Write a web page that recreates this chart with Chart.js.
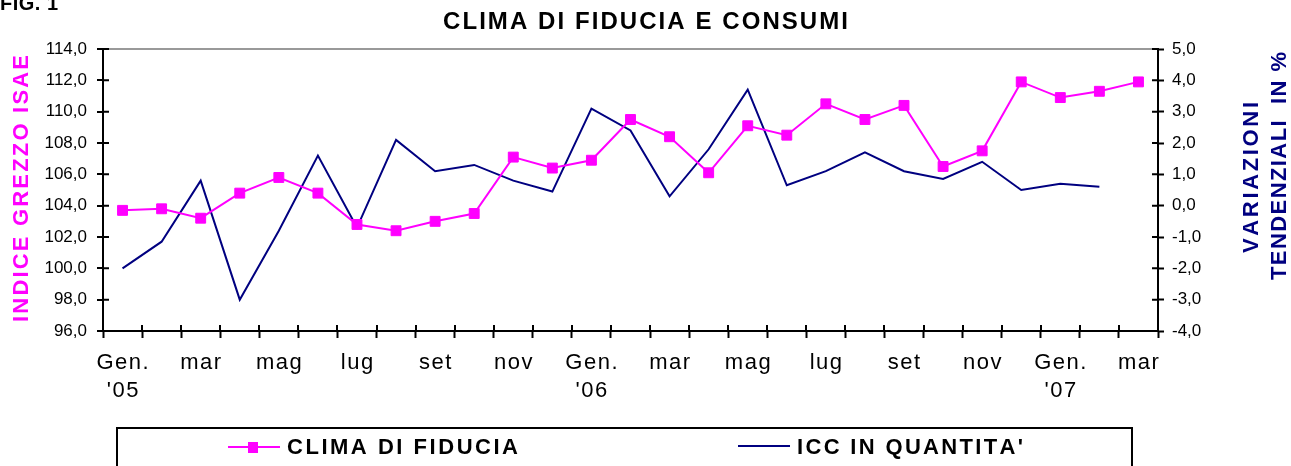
<!DOCTYPE html>
<html>
<head>
<meta charset="utf-8">
<script src="https://cdn.jsdelivr.net/npm/chart.js@4.4.0/dist/chart.umd.min.js"></script>
<style>
  html, body { margin: 0; padding: 0; background: #fff; overflow: hidden; }
  canvas { display: block; }
</style>
</head>
<body>
<canvas id="grafica" width="1291" height="466"></canvas>
<script>
// dati (gen 2005 - mar 2007)
const mesi = [
  ["Gen.", "'05"], "feb", "mar", "apr", "mag", "giu", "lug", "ago", "set", "ott", "nov", "dic",
  ["Gen.", "'06"], "feb", "mar", "apr", "mag", "giu", "lug", "ago", "set", "ott", "nov", "dic",
  ["Gen.", "'07"], "feb", "mar"
];
const climaFiducia = [103.7, 103.8, 103.2, 104.8, 105.8, 104.8, 102.8, 102.4, 103.0, 103.5, 107.1, 106.4,
                      106.9, 109.5, 108.4, 106.1, 109.1, 108.5, 110.5, 109.5, 110.4, 106.5, 107.5, 111.9,
                      110.9, 111.3, 111.9];
const iccQuantita = [-2.0, -1.15, 0.8, -3.0, -0.8, 1.6, -0.7, 2.1, 1.1, 1.3, 0.8, 0.45,
                     3.1, 2.4, 0.3, 1.8, 3.7, 0.65, 1.1, 1.7, 1.1, 0.85, 1.4, 0.5,
                     0.7, 0.6, null];
const titolo = "CLIMA DI FIDUCIA E CONSUMI";
const titoloAsseSx = "INDICE GREZZO ISAE";
const titoloAsseDx = ["VARIAZIONI", "TENDENZIALI  IN %"];

const FONT = "'Liberation Sans', Arial, sans-serif";
const FONT_STRETTO = "'Liberation Sans Narrow', 'Arial Narrow', 'Liberation Sans', sans-serif";
const virgola = v => v.toFixed(1).replace('.', ',');

// scrive un testo lettera per lettera con spaziatura extra
function largo(ctx, s, gap) {
  const c = [...s];
  return c.reduce((t, ch) => t + ctx.measureText(ch).width, 0) + gap * (c.length - 1);
}
function scrivi(ctx, s, x, y, gap, align) {
  const w = largo(ctx, s, gap);
  let cx = align === 'center' ? x - w / 2 : x;
  ctx.textAlign = 'left';
  for (const ch of s) { ctx.fillText(ch, cx, y); cx += ctx.measureText(ch).width + gap; }
}
function scriviLargo(ctx, s, x, y, w, align) {
  const n = [...s].length;
  const gap = n > 1 ? (w - largo(ctx, s, 0)) / (n - 1) : 0;
  scrivi(ctx, s, x, y, gap, align);
}

const decorazioni = {
  id: 'decorazioni',
  afterDraw(chart) {
    const { ctx, chartArea: a, scales } = chart;
    ctx.save();
    // tacche interne
    ctx.strokeStyle = '#000';
    ctx.lineWidth = 2;
    ctx.beginPath();
    scales.y.ticks.forEach((t, i) => { const p = scales.y.getPixelForTick(i); ctx.moveTo(a.left, p); ctx.lineTo(a.left + 6, p); });
    scales.y1.ticks.forEach((t, i) => { const p = scales.y1.getPixelForTick(i); ctx.moveTo(a.right - 6, p); ctx.lineTo(a.right, p); });
    for (let i = 0; i <= mesi.length; i++) {
      const p = Math.round(scales.x.getPixelForValue(i - 0.5));
      ctx.moveTo(p, a.bottom); ctx.lineTo(p, a.bottom - 6);
    }
    ctx.stroke();

    // etichette asse x (un mese si, uno no)
    ctx.fillStyle = '#000';
    ctx.font = '22px ' + FONT;
    ctx.textBaseline = 'alphabetic';
    mesi.forEach((m, i) => {
      if (i % 2) return;
      const x = scales.x.getPixelForValue(i);
      const righe = Array.isArray(m) ? m : [m];
      righe.forEach((r, k) => scrivi(ctx, r, x, 369 + k * 28, 1.5, 'center'));
    });

    // titoli
    ctx.font = 'bold 20px ' + FONT;
    scriviLargo(ctx, 'FIG. 1', 0, 10, 58, 'left');
    ctx.font = 'bold 24px ' + FONT;
    scriviLargo(ctx, titolo, 443, 29, 405, 'left');

    // titolo asse sinistro
    ctx.font = 'bold 22px ' + FONT;
    ctx.save();
    ctx.translate(28, 188.5);
    ctx.rotate(-Math.PI / 2);
    ctx.fillStyle = '#FF00FF';
    scriviLargo(ctx, titoloAsseSx, 0, 0, 267, 'center');
    ctx.restore();

    // titolo asse destro su due righe
    const posDx = [[1258, 177.5, 151], [1286, 166, 228]];
    titoloAsseDx.forEach((r, k) => {
      ctx.save();
      ctx.translate(posDx[k][0], posDx[k][1]);
      ctx.rotate(-Math.PI / 2);
      ctx.fillStyle = '#000080';
      scriviLargo(ctx, r, 0, 0, posDx[k][2], 'center');
      ctx.restore();
    });

    // legenda in riquadro
    ctx.strokeStyle = '#000';
    ctx.lineWidth = 2;
    ctx.strokeRect(117, 428, 1015, 60);
    const voci = [
      { x: 228, y: 447, tx: 287, tw: 231 },
      { x: 738, y: 446, tx: 797, tw: 226 }
    ];
    chart.data.datasets.forEach((ds, k) => {
      const v = voci[k];
      ctx.strokeStyle = ds.borderColor;
      ctx.lineWidth = 2;
      ctx.beginPath(); ctx.moveTo(v.x, v.y); ctx.lineTo(v.x + 52, v.y); ctx.stroke();
      if (ds.pointRadius > 0) {
        ctx.fillStyle = ds.pointBackgroundColor;
        ctx.fillRect(v.x + 20, v.y - 5, 10, 11);
      }
      ctx.fillStyle = '#000';
      ctx.font = 'bold 22px ' + FONT;
      scriviLargo(ctx, ds.label, v.tx, 454, v.tw, 'left');
    });
    ctx.restore();
  }
};

new Chart(document.querySelector('#grafica'), {
  type: 'line',
  data: {
    labels: mesi,
    datasets: [
      {
        label: 'CLIMA DI FIDUCIA',
        data: climaFiducia,
        yAxisID: 'y',
        borderColor: '#FF00FF',
        backgroundColor: '#FF00FF',
        borderWidth: 2,
        pointStyle: 'rect',
        pointRadius: 7,
        pointBorderWidth: 1,
        pointBackgroundColor: '#FF00FF',
        pointBorderColor: '#FF00FF',
        tension: 0
      },
      {
        label: "ICC IN QUANTITA'",
        data: iccQuantita,
        yAxisID: 'y1',
        borderColor: '#000080',
        backgroundColor: '#000080',
        borderWidth: 2,
        pointRadius: 0,
        tension: 0
      }
    ]
  },
  options: {
    responsive: false,
    animation: false,
    events: [],
    layout: { padding: { top: 49, left: 0, right: 0, bottom: 0 } },
    plugins: { legend: { display: false }, title: { display: false }, tooltip: { enabled: false } },
    scales: {
      x: {
        offset: true,
        grid: { offset: true, drawOnChartArea: false, tickLength: 7, tickColor: '#000', tickWidth: 2 },
        border: { color: '#000', width: 2 },
        ticks: { display: false, autoSkip: false },
        afterFit(s) { s.height = 135; }
      },
      y: {
        position: 'left',
        min: 96, max: 114,
        ticks: { stepSize: 2, color: '#000', padding: 10, font: { family: FONT_STRETTO, size: 17 }, callback: v => virgola(v) },
        grid: {
          color: c => c.tick && c.tick.value === 114 ? '#999999' : 'rgba(0,0,0,0)',
          lineWidth: 2, tickLength: 6, tickColor: '#000', tickWidth: 2
        },
        border: { color: '#000', width: 2 },
        afterFit(s) { s.width = 103; }
      },
      y1: {
        position: 'right',
        min: -4, max: 5,
        ticks: { stepSize: 1, color: '#000', padding: 8, font: { family: FONT_STRETTO, size: 17 }, callback: v => virgola(v) },
        grid: { drawOnChartArea: false, tickLength: 6, tickColor: '#000', tickWidth: 2 },
        border: { color: '#000', width: 2 },
        afterFit(s) { s.width = 133; }
      }
    }
  },
  plugins: [decorazioni]
});
</script>
</body>
</html>
